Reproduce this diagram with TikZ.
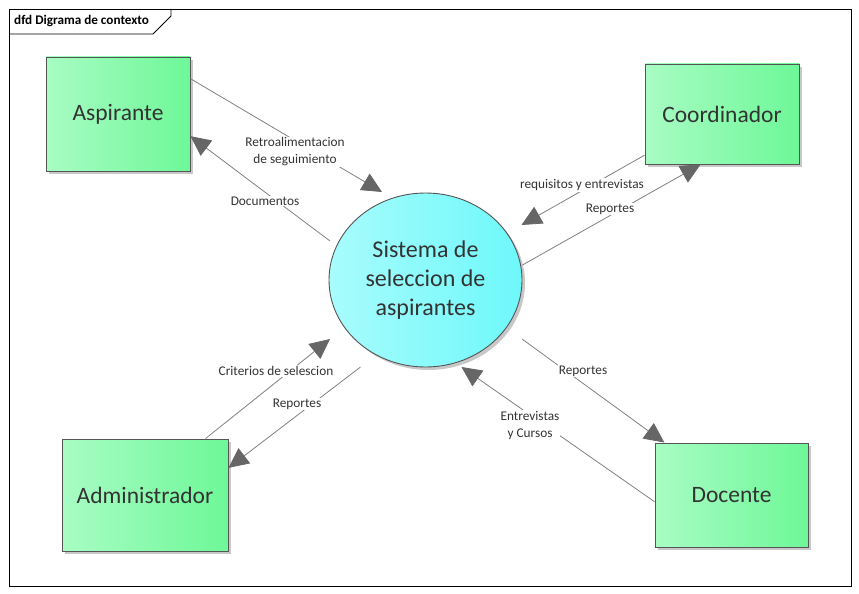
\documentclass[tikz,border=0pt]{standalone}
\usepackage{fontspec}
\setmainfont{Carlito}
\usetikzlibrary{arrows.meta,shapes.geometric,shadows,calc}
\definecolor{boxL}{HTML}{A8FCC4}
\definecolor{boxM}{HTML}{9AFBB8}
\definecolor{boxR}{HTML}{6EF898}
\definecolor{ellL}{HTML}{A8FCFC}
\definecolor{ellM}{HTML}{9AFBFB}
\definecolor{ellR}{HTML}{6EF8FA}
\definecolor{txt}{HTML}{333333}
\definecolor{linegray}{HTML}{808080}
\definecolor{tipgray}{HTML}{666666}
\definecolor{bordergray}{HTML}{555555}
\definecolor{shadowgray}{HTML}{C8C8C8}
\begin{document}
\begin{tikzpicture}[x=1pt,y=-1pt,
  entity/.style={draw=bordergray, line width=0.9pt, left color=boxL, middle color=boxM, right color=boxR,
    drop shadow={shadow xshift=3pt, shadow yshift=-3pt, fill=shadowgray, opacity=1},
    font=\fontsize{23.5}{28}\selectfont, text=txt, inner sep=0pt},
  process/.style={ellipse, draw=bordergray, line width=0.9pt, left color=ellL, middle color=ellM, right color=ellR,
    drop shadow={shadow xshift=3pt, shadow yshift=-3pt, fill=shadowgray, opacity=1},
    minimum width=193pt, minimum height=174pt, inner sep=0pt, align=center,
    font=\fontsize{24}{29}\selectfont, text=txt},
  flow/.style={draw=linegray, line width=0.8pt, -{Triangle[length=20pt,width=19pt,color=tipgray]}},
  lbl/.style={fill=white, inner sep=1pt, text=txt, align=center, font=\fontsize{13.3}{17}\selectfont},
]
\useasboundingbox (0,0) rectangle (859,594);
% frame
\draw[line width=0.9pt] (9,9) rectangle (851,586);
\draw[line width=0.9pt] (9,34) -- (153,34) -- (171,16) -- (171,9);
\node[anchor=west, inner sep=0pt, font=\fontsize{13.2}{15}\selectfont\bfseries] (title) at (14,21) {dfd Digrama de contexto};
% entities
\node[entity, minimum width=144pt, minimum height=114pt] (asp) at (118,114) {Aspirante};
\node[entity, minimum width=154pt, minimum height=100pt] (coo) at (722,114) {Coordinador};
\node[entity, minimum width=166pt, minimum height=112pt] (adm) at (145,495) {Administrador};
\node[entity, minimum width=153pt, minimum height=104pt] (doc) at (731.5,495) {Docente};
\node[process] (sys) at (425.5,280) {Sistema de\\seleccion de\\aspirantes};
% flows
\draw[flow] (asp.26.6) -- ($(sys.center)+(-43.5,-88)$);
\draw[flow] ($(sys.center)+(-95.5,-39)$) -- (asp.-17.7);
\draw[flow] (coo.208.6) -- ($(sys.center)+(96,-55)$);
\draw[flow] ($(sys.center)+(97,-15)$) -- (coo.247.2);
\draw[flow] (adm.43) -- ($(sys.center)+(-95.5,59)$);
\draw[flow] ($(sys.center)+(-65,87)$) -- (adm.18.6);
\draw[flow] ($(sys.center)+(96.5,59)$) -- (doc.142.4);
\draw[flow] (doc.185.2) -- ($(sys.center)+(36,87)$);
% labels
\node[lbl] (l1) at (295,152) {Retroalimentacion\\de seguimiento};
\node[lbl] (l2) at (265,201) {Documentos};
\node[lbl] (l3) at (582,185) {requisitos y entrevistas};
\node[lbl] (l4) at (610,209) {Reportes};
\node[lbl] (l5) at (276,371) {Criterios de selescion};
\node[lbl] (l6) at (297,404) {Reportes};
\node[lbl] (l7) at (583,371) {Reportes};
\node[lbl] (l8) at (530,425) {Entrevistas\\y Cursos};
\end{tikzpicture}
\end{document}
